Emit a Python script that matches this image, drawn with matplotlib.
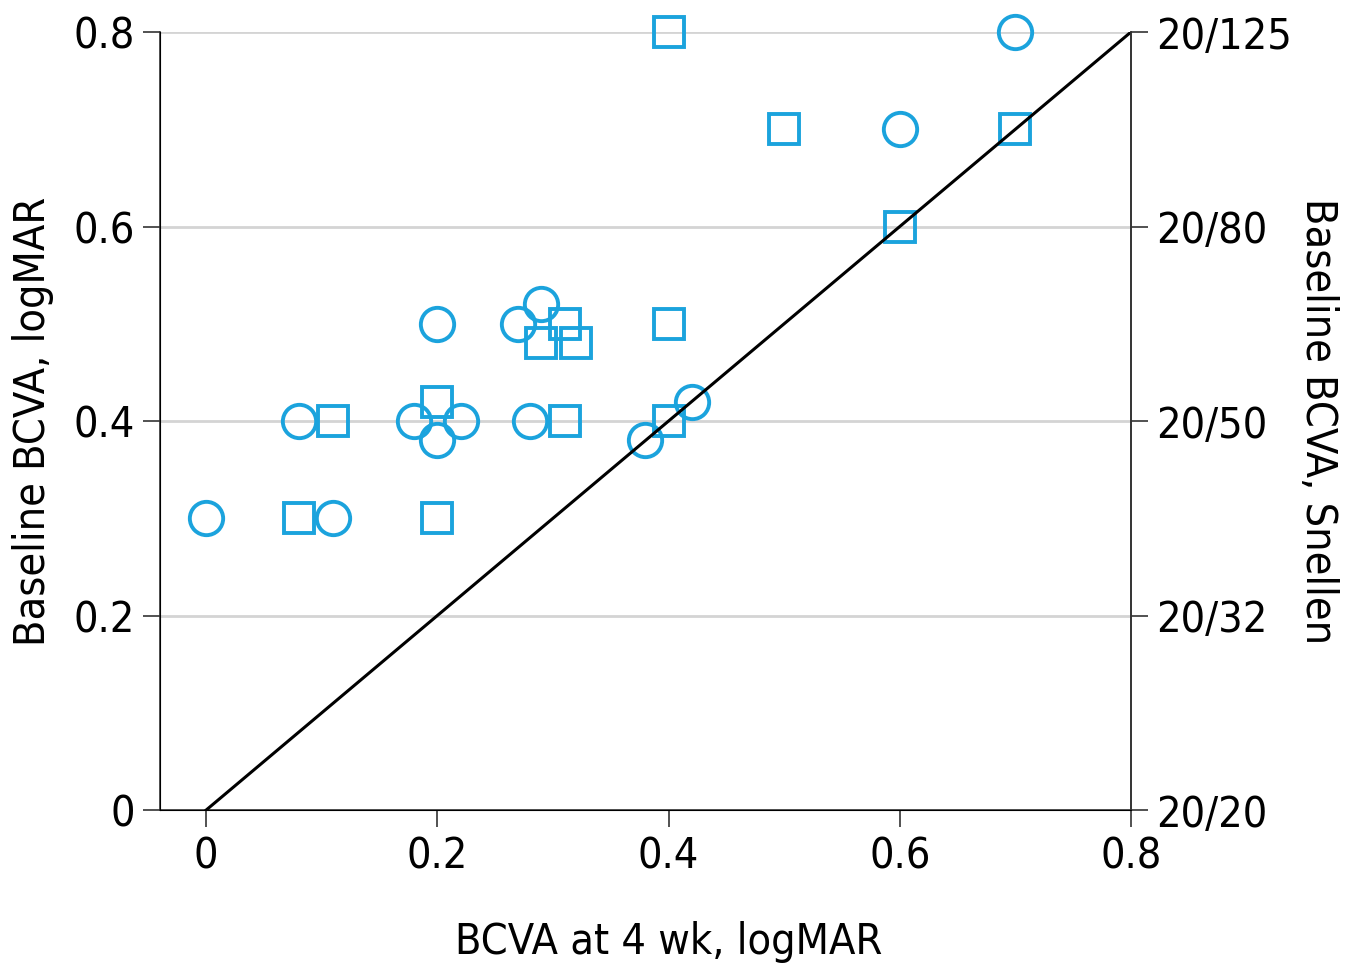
import matplotlib.pyplot as plt
from matplotlib import font_manager

# pick a narrow sans if one is installed
narrow = [f for f in font_manager.fontManager.ttflist
          if 'Narrow' in f.name or 'Condensed' in f.name
          or str(f.stretch) in ('condensed', 'semi-condensed', '75', '87')]
if narrow:
    plt.rcParams['font.family'] = [narrow[0].name, 'DejaVu Sans']
    plt.rcParams['font.stretch'] = narrow[0].stretch
    fs = 31
else:
    plt.rcParams['font.family'] = ['DejaVu Sans']
    fs = 28

# circles
circ_x = [0.0, 0.08, 0.11, 0.20, 0.18, 0.22, 0.20, 0.27, 0.29, 0.28, 0.38, 0.42, 0.60, 0.70]
circ_y = [0.30, 0.40, 0.30, 0.50, 0.40, 0.40, 0.38, 0.50, 0.52, 0.40, 0.38, 0.42, 0.70, 0.80]
# squares
sq_x = [0.08, 0.11, 0.20, 0.20, 0.29, 0.31, 0.32, 0.31, 0.40, 0.40, 0.40, 0.50, 0.60, 0.70]
sq_y = [0.30, 0.40, 0.42, 0.30, 0.48, 0.50, 0.48, 0.40, 0.50, 0.40, 0.80, 0.70, 0.60, 0.70]

ticks = [0, 0.2, 0.4, 0.6, 0.8]
tick_labels = ['0', '0.2', '0.4', '0.6', '0.8']
snellen = ['20/20', '20/32', '20/50', '20/80', '20/125']

blue = '#1ba3dd'
dark = '#333333'

fig = plt.figure(figsize=(13.58, 9.65), dpi=100)
ax = fig.add_axes([0.1178, 0.1606, 0.8328 - 0.1178, 0.9668 - 0.1606])

for t in ticks[1:]:
    ax.axhline(t, color='#d4d4d4', lw=2.0, zorder=1)

ax.plot(circ_x, circ_y, 'o', ms=24, mfc='none', mec=blue, mew=2.8, clip_on=False, zorder=3)
ax.plot(sq_x, sq_y, 's', ms=22, mfc='none', mec=blue, mew=2.8, clip_on=False, zorder=3)
ax.plot([0, 0.8], [0, 0.8], color='black', lw=2.2, zorder=4)

ax.set_xlim(-0.04, 0.8)
ax.set_ylim(0, 0.8)
ax.set_xticks(ticks)
ax.set_xticklabels(tick_labels)
ax.set_yticks(ticks)
ax.set_yticklabels(tick_labels)
ax.spines['top'].set_visible(False)
for s in ['left', 'bottom', 'right']:
    ax.spines[s].set_color(dark)
    ax.spines[s].set_linewidth(1.2)
ax.tick_params(axis='both', labelsize=fs, length=12, width=1.2, color=dark, pad=6)
ax.set_xlabel('BCVA at 4 wk, logMAR', fontsize=fs)
ax.xaxis.set_label_coords(0.524, -0.143)
ax.set_ylabel('Baseline BCVA, logMAR', fontsize=fs, labelpad=14)

ax2 = ax.twinx()
ax2.set_ylim(0, 0.8)
ax2.set_yticks(ticks)
ax2.set_yticklabels(snellen)
ax2.spines['top'].set_visible(False)
ax2.spines['right'].set_color(dark)
ax2.spines['right'].set_linewidth(1.2)
ax2.tick_params(axis='y', labelsize=fs, length=12, width=1.2, color=dark, pad=6)
ax2.set_ylabel('Baseline BCVA, Snellen', fontsize=fs, rotation=-90, labelpad=34)

fig.savefig('out.png', dpi=100)
